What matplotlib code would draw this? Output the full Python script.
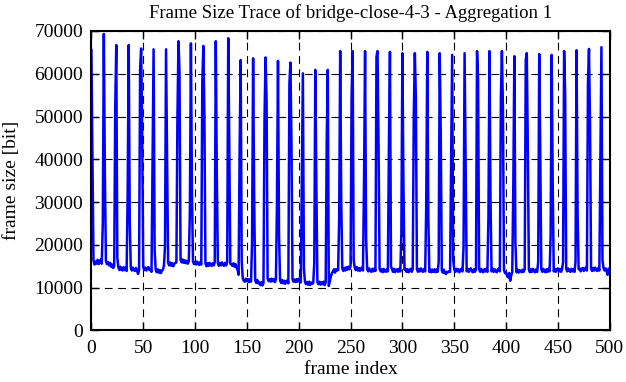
import matplotlib
matplotlib.use("Agg")
import matplotlib.pyplot as plt

# frame sizes in kbit, one GOP (12 frames) per row
gop_rows = [
    [65.5, 40.6, 16.4, 15.4, 16.1, 15.6, 16.5, 15.5, 16.0, 16.6, 15.6, 25.0],
    [69.3, 36.7, 16.3, 15.5, 16.0, 15.2, 15.8, 14.9, 15.4, 14.6, 15.1, 52.1],
    [66.7, 17.0, 14.8, 14.1, 14.9, 14.2, 14.0, 14.8, 14.1, 14.7, 13.9, 32.8],
    [66.7, 25.4, 14.6, 14.0, 14.7, 14.1, 13.9, 14.6, 14.0, 13.2, 14.1, 61.2],
    [65.9, 46.4, 14.8, 14.1, 14.7, 14.0, 14.6, 14.8, 14.1, 14.3, 13.7, 40.2],
    [65.7, 18.8, 14.2, 13.6, 14.3, 13.5, 14.1, 13.4, 14.0, 14.2, 15.2, 19.6],
    [65.7, 41.0, 15.8, 15.2, 15.9, 15.1, 15.7, 15.0, 15.6, 15.8, 15.9, 50.0],
    [67.6, 60.5, 16.5, 15.9, 16.6, 15.8, 16.4, 15.7, 16.3, 15.6, 16.2, 28.1],
    [67.1, 32.4, 16.1, 15.5, 16.0, 15.4, 16.1, 15.5, 15.3, 16.0, 15.4, 58.1],
    [66.5, 50.3, 15.6, 15.0, 15.7, 15.1, 15.8, 15.2, 15.1, 15.7, 15.2, 16.0],
    [67.6, 36.3, 15.7, 15.1, 15.8, 15.2, 15.9, 15.3, 15.1, 15.8, 15.2, 16.0],
    [68.3, 43.7, 15.6, 15.4, 15.1, 15.7, 14.9, 15.5, 14.7, 14.2, 13.0, 42.5],
    [63.2, 16.0, 12.2, 11.6, 11.4, 12.1, 11.5, 12.0, 11.3, 11.9, 11.4, 21.1],
    [63.6, 31.3, 11.7, 11.1, 11.8, 11.0, 11.2, 10.6, 11.3, 10.5, 11.1, 49.6],
    [63.8, 53.5, 12.1, 11.5, 12.0, 11.4, 12.1, 11.5, 12.0, 11.3, 11.9, 29.7],
    [63.0, 22.3, 11.7, 11.1, 11.8, 11.0, 11.6, 10.9, 11.5, 11.7, 11.0, 57.7],
    [62.6, 43.7, 12.0, 11.4, 11.9, 11.3, 12.0, 11.4, 12.1, 11.5, 11.2, 35.9],
    [60.1, 14.5, 11.4, 10.8, 11.3, 10.7, 11.4, 10.6, 11.2, 10.9, 11.1, 15.7],
    [60.9, 34.4, 11.3, 10.8, 11.4, 10.7, 11.3, 10.8, 11.4, 10.6, 11.2, 44.1],
    [60.9, 10.4, 11.5, 12.6, 13.4, 13.8, 14.3, 13.5, 14.3, 14.0, 14.1, 26.0],
    [65.3, 30.5, 14.5, 13.9, 14.6, 14.0, 14.8, 14.2, 14.9, 14.3, 15.0, 54.4],
    [65.3, 16.5, 14.7, 14.1, 14.8, 14.0, 14.6, 13.9, 14.5, 14.7, 14.0, 35.2],
    [65.3, 21.5, 14.4, 13.8, 14.5, 13.9, 13.7, 14.4, 13.8, 14.5, 13.9, 64.0],
    [65.3, 43.1, 14.4, 13.8, 14.3, 13.6, 14.4, 13.8, 13.7, 14.3, 13.8, 43.3],
    [65.1, 15.0, 14.3, 13.7, 14.4, 13.6, 14.2, 14.3, 13.7, 14.4, 13.8, 22.7],
    [64.8, 34.2, 14.2, 14.4, 13.7, 14.3, 13.6, 14.2, 14.4, 13.7, 14.3, 50.7],
    [64.8, 54.5, 14.3, 13.7, 14.4, 13.8, 14.5, 13.9, 13.7, 14.4, 13.8, 29.3],
    [65.1, 26.6, 13.7, 14.3, 13.6, 14.2, 13.7, 14.3, 13.6, 14.2, 13.7, 16.0],
    [64.8, 45.9, 14.1, 13.5, 14.2, 13.4, 13.2, 13.7, 13.6, 13.8, 13.7, 37.9],
    [64.4, 16.5, 14.3, 13.7, 14.4, 13.8, 14.3, 13.6, 14.2, 14.4, 13.8, 19.6],
    [64.8, 38.0, 13.8, 14.4, 13.7, 14.3, 14.5, 13.8, 13.6, 14.3, 13.7, 14.2],
    [65.3, 58.7, 14.3, 13.7, 14.4, 13.8, 13.6, 14.3, 13.8, 14.4, 13.7, 26.6],
    [65.3, 30.5, 13.8, 14.4, 13.7, 14.3, 13.8, 13.6, 14.3, 14.5, 13.8, 54.4],
    [65.3, 51.7, 14.1, 13.4, 13.6, 12.8, 12.4, 13.4, 11.6, 12.9, 13.7, 34.2],
    [64.1, 20.7, 13.6, 14.2, 13.5, 14.1, 13.9, 13.6, 14.2, 13.7, 14.3, 63.3],
    [64.8, 42.3, 14.2, 13.6, 14.3, 13.7, 14.4, 13.8, 13.6, 14.3, 13.7, 16.0],
    [64.6, 41.2, 14.3, 13.7, 14.4, 13.8, 13.6, 14.3, 13.7, 14.4, 13.8, 22.1],
    [64.4, 34.5, 13.8, 14.4, 13.7, 14.3, 14.5, 13.8, 14.4, 13.7, 14.3, 16.0],
    [65.3, 55.4, 14.4, 13.8, 14.5, 13.9, 13.7, 14.4, 13.8, 14.3, 13.7, 16.0],
    [65.5, 27.5, 14.3, 14.5, 13.8, 14.4, 14.6, 13.9, 14.5, 14.7, 14.0, 57.7],
    [65.8, 48.4, 14.5, 13.9, 14.6, 14.0, 14.7, 14.1, 13.9, 14.6, 14.0, 39.0],
    [66.2, 16.5, 14.6, 14.0, 14.5, 13.9, 13.0, 14.4],
]
frame_size = [v * 1000 for row in gop_rows for v in row]
frame_index = list(range(len(frame_size)))

x_ticks = list(range(0, 501, 50))
y_ticks = list(range(0, 70001, 10000))

plt.rcParams['font.family'] = ['Liberation Serif', 'DejaVu Serif']
plt.rcParams['font.size'] = 14

fig = plt.figure(figsize=(6.26, 3.82), dpi=100)
ax = fig.add_axes([0.146, 0.135, 0.828, 0.784])

ax.plot(frame_index, frame_size, color='#0000ff', lw=1.8)

ax.set_xlim(0, 500)
ax.set_ylim(0, 70000)
ax.set_xticks(x_ticks)
ax.set_yticks(y_ticks)
ax.tick_params(direction='in', length=6, width=1, top=True, right=True)
ax.tick_params(axis='x', pad=7)
ax.tick_params(axis='y', pad=6)
ax.grid(True, color='black', lw=0.8, linestyle=(0, (7, 5)))
for s in ax.spines.values():
    s.set_linewidth(1.5)

ax.set_title('Frame Size Trace of bridge-close-4-3 - Aggregation 1', fontsize=13.5, pad=9)
ax.set_xlabel('frame index', labelpad=3)
ax.set_ylabel('frame size [bit]', labelpad=10)

fig.savefig('out.png', dpi=100)
